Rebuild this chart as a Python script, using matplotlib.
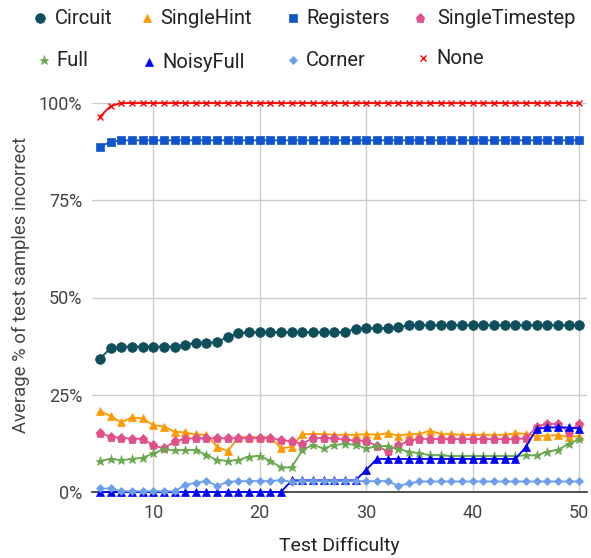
import matplotlib
matplotlib.use("Agg")
import matplotlib.pyplot as plt
from matplotlib.lines import Line2D
from matplotlib.ticker import FixedLocator, FuncFormatter

plt.rcParams['font.family'] = ['Roboto', 'DejaVu Sans']

difficulty = list(range(5, 51))

circuit = [34.3, 37.0] + [37.4] * 6 + [37.8, 38.4, 38.4, 38.5, 39.9, 40.8] + [41.1] * 10 + \
          [41.9] + [42.1] * 3 + [42.3] + [42.9] * 17
single_hint = [20.8, 19.5, 17.9, 19.2, 18.9, 17.2, 16.8, 15.5, 15.3, 14.8, 14.7, 11.6, 10.5,
               14.1, 14.1, 14.1, 14.1, 11.2, 11.6, 14.9, 14.9, 14.9, 14.7, 14.7, 14.7, 14.9,
               14.7, 15.1, 14.5, 14.9, 14.9, 15.8, 14.9, 14.9, 14.7, 14.7, 14.7, 14.7, 14.7,
               15.1, 14.9, 14.4, 14.4, 14.7, 14.1, 14.4]
registers = [88.8, 90.0] + [90.4] * 44
single_timestep = [15.2, 14.2, 13.9, 13.7, 13.7, 12.0, 11.2, 13.0, 13.7] + [13.8] * 8 + \
                  [13.4, 13.0, 12.4, 13.9, 13.9, 13.8, 13.5, 13.2, 13.2, 11.8, 10.5, 12.0,
                   13.1, 13.7] + [13.6] * 9 + [13.8, 16.8, 17.6, 17.4, 15.5, 17.5]
full = [8.0, 8.5, 8.2, 8.5, 8.8, 9.9, 11.0, 10.7, 10.8, 10.8, 9.5, 8.2, 8.0, 8.2, 9.1, 9.3,
        8.0, 6.3, 6.3, 10.8, 12.1, 11.2, 12.1, 12.4, 12.1, 11.2, 11.8, 11.8, 11.0, 10.4, 9.9,
        9.5, 9.4] + [9.25] * 7 + [9.4, 9.4, 10.4, 10.8, 12.4, 13.5]
noisy_full = [0.0] * 18 + [3.0] * 7 + [5.7] + [8.5] * 14 + [11.6, 16.2, 16.6, 16.6, 16.6, 16.3]
corner = [0.9, 0.9] + [0.2] * 6 + [1.8, 2.4, 2.8, 1.6, 2.6] + [2.8] * 4 + [3.1, 2.6] + \
         [2.8] * 9 + [1.6, 2.2] + [2.7] * 16
none = [96.5, 99.2] + [100.0] * 44

series_names = ["Circuit", "SingleHint", "Registers", "SingleTimestep",
                "Full", "NoisyFull", "Corner", "None"]
series_values = [circuit, single_hint, registers, single_timestep,
                 full, noisy_full, corner, none]
x_ticks = [10, 20, 30, 40, 50]
y_ticks = [0, 25, 50, 75, 100]

colors = ["#0f4f5c", "#ff9900", "#1155cc", "#e0508a",
          "#6aa84f", "#0000ff", "#6d9eeb", "#ff0000"]
markers = ["o", "^", "s", "p", "*", "^", "D", "x"]
msizes = [7, 5.5, 5.5, 6.5, 6.5, 6, 4.5, 4.5]

W, H = 591, 558
fig = plt.figure(figsize=(5.91, 5.58), dpi=100)
ax = fig.add_axes([92 / W, 1 - 492 / H, 495 / W, 389 / H])

for name, vals, c, m, ms in zip(series_names, series_values, colors, markers, msizes):
    ax.plot(difficulty, vals, color=c, marker=m, markersize=ms, linewidth=1.3,
            markeredgewidth=1.0 if m == "x" else 0.5, markeredgecolor=c,
            clip_on=False, zorder=3)

ax.set_xlim(4.25, 50.73)
ax.set_ylim(0, 100)
ax.xaxis.set_major_locator(FixedLocator(x_ticks))
ax.yaxis.set_major_locator(FixedLocator(y_ticks))
ax.yaxis.set_major_formatter(FuncFormatter(lambda v, p: f"{int(v)}%"))
ax.grid(True, color="#cccccc", linewidth=1)
ax.set_axisbelow(True)
for s in ["top", "right", "left"]:
    ax.spines[s].set_visible(False)
ax.spines["bottom"].set_color("#333333")
ax.spines["bottom"].set_linewidth(1.2)
ax.spines["bottom"].set_zorder(2)
ax.tick_params(axis="y", length=0, labelsize=13, labelcolor="#444444", pad=7)
ax.tick_params(axis="x", length=0, labelsize=13, labelcolor="#444444", pad=9)

ax.set_xlabel("Test Difficulty", fontsize=14, color="#222222", va="center")
ax.xaxis.set_label_coords(0.5, -(546 - 492) / 389)
ax.set_ylabel("Average % of test samples incorrect", fontsize=13.3, color="#444444",
              va="center")
ax.yaxis.set_label_coords((21 - 92) / 495, (492 - 285) / 389)

# legend (manual layout, two rows)
leg_pos = [(40, 18, 55), (147, 18, 160), (293, 18, 306), (420, 18, 437),
           (44, 60, 56), (149, 62, 162), (293, 60, 306), (423, 58, 436)]
for (mx, my, tx), name, c, m, ms in zip(leg_pos, series_names, colors, markers, msizes):
    fig.add_artist(Line2D([mx / W], [1 - my / H], marker=m, color=c, markersize=ms,
                          markeredgewidth=1.0 if m == "x" else 0.5, markeredgecolor=c,
                          linestyle="none", transform=fig.transFigure))
    fig.text(tx / W, 1 - my / H, name, fontsize=14.5, color="#222222",
             va="center", ha="left")

fig.savefig("out.png", dpi=100)
